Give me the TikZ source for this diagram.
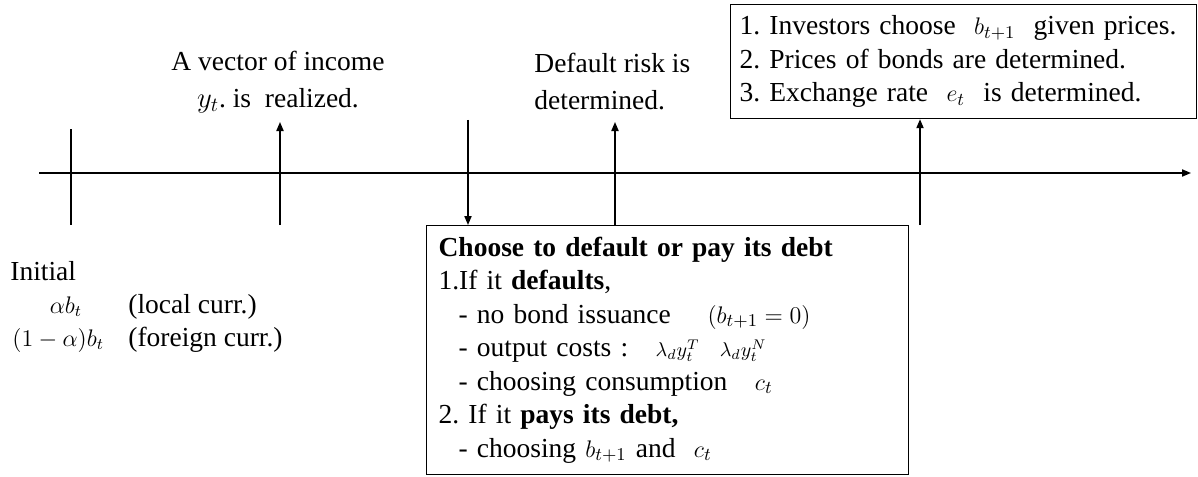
\documentclass[tikz,border=0pt]{standalone}
\usepackage{amsmath}
\usepackage{fontspec}
\setmainfont{Liberation Serif}
\frenchspacing
\usetikzlibrary{arrows.meta,positioning}
\newcommand{\smallmath}[1]{{\fontsize{13}{15}\selectfont$#1$}}
\tikzset{
  txt/.style={font=\fontsize{13.75}{18.5}\selectfont,inner sep=0pt},
  infobox/.style={draw,line width=.6pt,align=left,anchor=north west,font=\fontsize{13.75}{16.75}\selectfont},
  tickline/.style={draw,line width=.7pt},
  flow/.style={-{Triangle[length=4.5pt,width=3.6pt]},draw,line width=.7pt}
}

\begin{document}
\begin{tikzpicture}[x=.5pt,y=-.5pt]
  \useasboundingbox (0,0) rectangle (1198,476);
  % time line and start tick
  \coordinate (tlStart) at (39,173);
  \coordinate (tlEnd) at (1191,173);
  \draw[flow] (tlStart) -- (tlEnd);
  \coordinate (tickTop) at (71,129);
  \coordinate (tickBot) at (71,225);
  \draw[tickline] (tickTop) -- (tickBot);
  % boxes
  \node[infobox,text width=224pt,inner xsep=4.5pt,minimum height=57pt] (market) at (730,4)
    {1. Investors choose\ \ \smallmath{b_{t+1}}\ \ given prices.\\2. Prices of bonds are determined.\\3. Exchange rate\ \ \smallmath{e_t}\ \ is determined.};
  \node[infobox,text width=229pt,inner xsep=6pt,minimum height=124.5pt] (choice) at (426,225)
    {\textbf{Choose to default or pay its debt}\\
     1.If it \textbf{defaults},\\
     \hspace*{10pt}- no bond issuance\quad\ \smallmath{(b_{t+1}=0)}\\
     \hspace*{10pt}- output costs :\quad {\fontsize{10}{12}\selectfont$\lambda_d y_t^T$\quad $\lambda_d y_t^N$}\\
     \hspace*{10pt}- choosing consumption\quad \smallmath{c_t}\\
     2. If it \textbf{pays its debt,}\\
     \hspace*{10pt}- choosing \smallmath{b_{t+1}} and\ \ \smallmath{c_t}};
  % events above the line
  \node[txt,align=center] (income) at (278,82) {A vector of income\\$y_t$. is\ \ realized.};
  \node[txt,align=left,anchor=west] (risk) at (534,82) {Default risk is\\determined.};
  \coordinate (incBot) at (280,225);
  \coordinate (incTop) at (280,122);
  \draw[flow] (incBot) -- (incTop);
  \coordinate (dnTop) at (468,120);
  \draw[flow] (dnTop) -- (dnTop |- choice.north);
  \coordinate (riskTop) at (615,122);
  \draw[flow] (riskTop |- choice.north) -- (riskTop);
  \coordinate (exBot) at (920,225);
  \draw[flow] (exBot) -- (exBot |- market.south);
  % initial debt
  \node[txt,anchor=base west] (init) at (10,280) {Initial};
  \node[txt,anchor=base] (local) at (66,313) {{\fontsize{12}{14}\selectfont$\alpha b_t$}};
  \node[txt,anchor=base west] (localnote) at (128,313) {(local curr.)};
  \node[txt,anchor=base west] (foreign) at (12,346) {{\fontsize{12}{14}\selectfont$(1-\alpha)b_t$}};
  \node[txt,anchor=base west] (foreignnote) at (128,346) {(foreign curr.)};
\end{tikzpicture}
\end{document}
